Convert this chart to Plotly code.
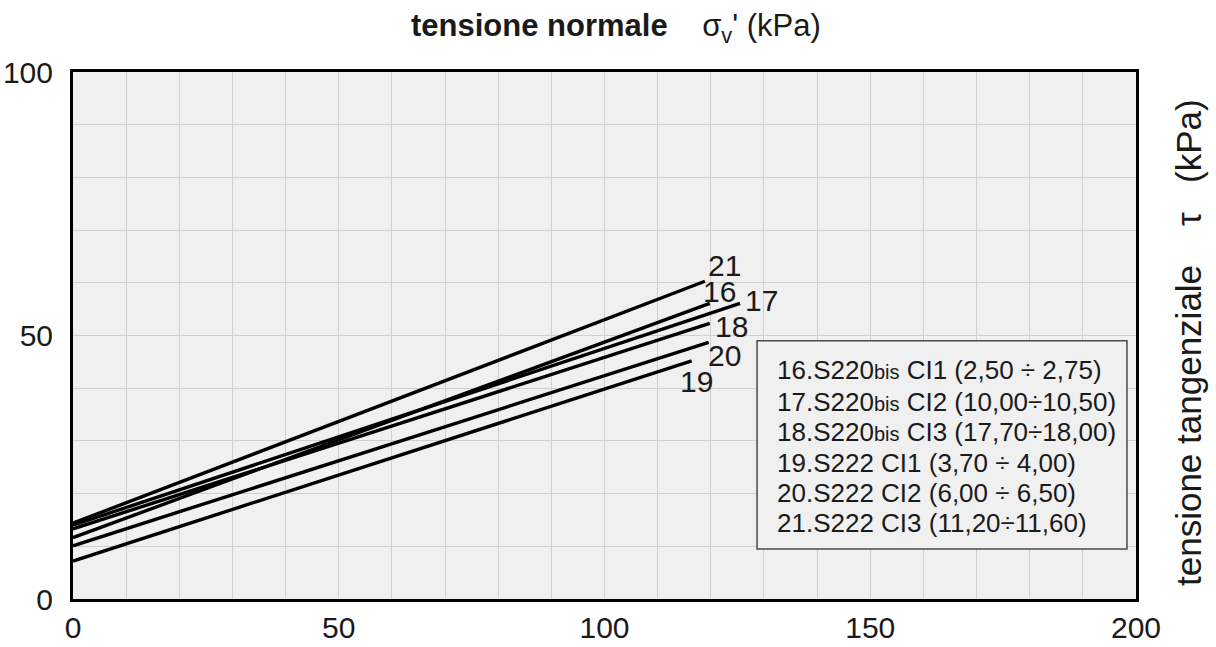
import plotly.graph_objects as go

# ---- data ----
series_ids = ["16", "17", "18", "19", "20", "21"]
x_start = [0, 0, 0, 0, 0, 0]
x_end = [119.8, 125.5, 119.8, 116.4, 119.6, 118.9]
y_start = [11.65, 14.0, 13.3, 7.2, 10.1, 14.4]
y_end = [56.1, 56.1, 52.3, 45.2, 48.7, 60.3]

label_x = [121.7, 129.6, 123.8, 117.4, 122.5, 122.5]
label_y = [58.3, 56.7, 51.8, 41.2, 46.3, 63.2]

legend_texts = [
    "16.S220bis CI1 (2,50 ÷ 2,75)",
    "17.S220bis CI2 (10,00÷10,50)",
    "18.S220bis CI3 (17,70÷18,00)",
    "19.S222 CI1 (3,70 ÷ 4,00)",
    "20.S222 CI2 (6,00 ÷ 6,50)",
    "21.S222 CI3 (11,20÷11,60)",
]
legend_y = [43.5, 37.4, 31.7, 25.8, 20.1, 14.4]

x_ticks = [0, 50, 100, 150, 200]
y_ticks = [0, 50, 100]

FONT = "Liberation Sans, Arial, sans-serif"
TXT = "#1a1a1a"

L, R, T, B = 73, 1136, 72, 599
PW, PH = R - L, B - T

fig = go.Figure()
for i, sid in enumerate(series_ids):
    fig.add_trace(go.Scatter(
        x=[x_start[i], x_end[i]], y=[y_start[i], y_end[i]],
        mode="lines", line=dict(color="black", width=3.4),
        name=sid, showlegend=False, hoverinfo="skip"))

# line labels
for i, sid in enumerate(series_ids):
    fig.add_annotation(x=label_x[i], y=label_y[i], text=sid, showarrow=False,
                       xanchor="center", yanchor="middle",
                       font=dict(family=FONT, size=30, color=TXT))

# legend box
fig.add_shape(type="rect", xref="x", yref="y", x0=128.7, x1=198.3, y0=9.5, y1=49.0,
              line=dict(color="#4a4a4a", width=1.5), fillcolor="#f0f0f0", layer="above")
for t, yy in zip(legend_texts, legend_y):
    t = t.replace("bis", "<span style='font-size:20px'>bis</span>")
    fig.add_annotation(x=132.0, y=yy, text=t, showarrow=False, xanchor="left",
                       yanchor="middle", font=dict(family=FONT, size=26, color=TXT))

# top title
fig.add_annotation(xref="paper", yref="paper", x=(616 - L) / PW, y=1 + (T - 28) / PH,
                   text="<b>tensione normale</b>\u00a0\u00a0\u00a0\u00a0σ<sub>v</sub>' (kPa)",
                   showarrow=False, xanchor="center", yanchor="middle",
                   font=dict(family=FONT, size=31, color=TXT))
# right title
fig.add_annotation(xref="paper", yref="paper", x=(1189 - L) / PW, y=(B - 343) / PH,
                   text="tensione tangenziale\u00a0\u00a0\u00a0\u00a0τ\u00a0\u00a0\u00a0(kPa)",
                   textangle=-90, showarrow=False, xanchor="center", yanchor="middle",
                   font=dict(family=FONT, size=35, color=TXT))

axis_common = dict(
    showline=True, linecolor="black", linewidth=3, mirror=True,
    showgrid=True, gridcolor="#cfcfcf", gridwidth=1, zeroline=False,
    ticks="", tickfont=dict(family=FONT, size=30, color=TXT), automargin=False,
)
fig.update_xaxes(range=[0, 200], tickvals=x_ticks, ticktext=[str(v) for v in x_ticks],
                 minor=dict(dtick=10, showgrid=True, gridcolor="#cfcfcf", gridwidth=1),
                 ticklabelstandoff=0, **axis_common)
fig.update_yaxes(range=[0, 100], tickvals=y_ticks, ticktext=[str(v) for v in y_ticks],
                 minor=dict(dtick=10, showgrid=True, gridcolor="#cfcfcf", gridwidth=1),
                 ticklabelstandoff=11, **axis_common)

fig.update_layout(
    width=1216, height=647,
    margin=dict(l=L, r=1216 - R, t=T, b=647 - B),
    paper_bgcolor="white", plot_bgcolor="#f0f0f0",
    font=dict(family=FONT, color=TXT),
)
fig.write_html("out.html")
